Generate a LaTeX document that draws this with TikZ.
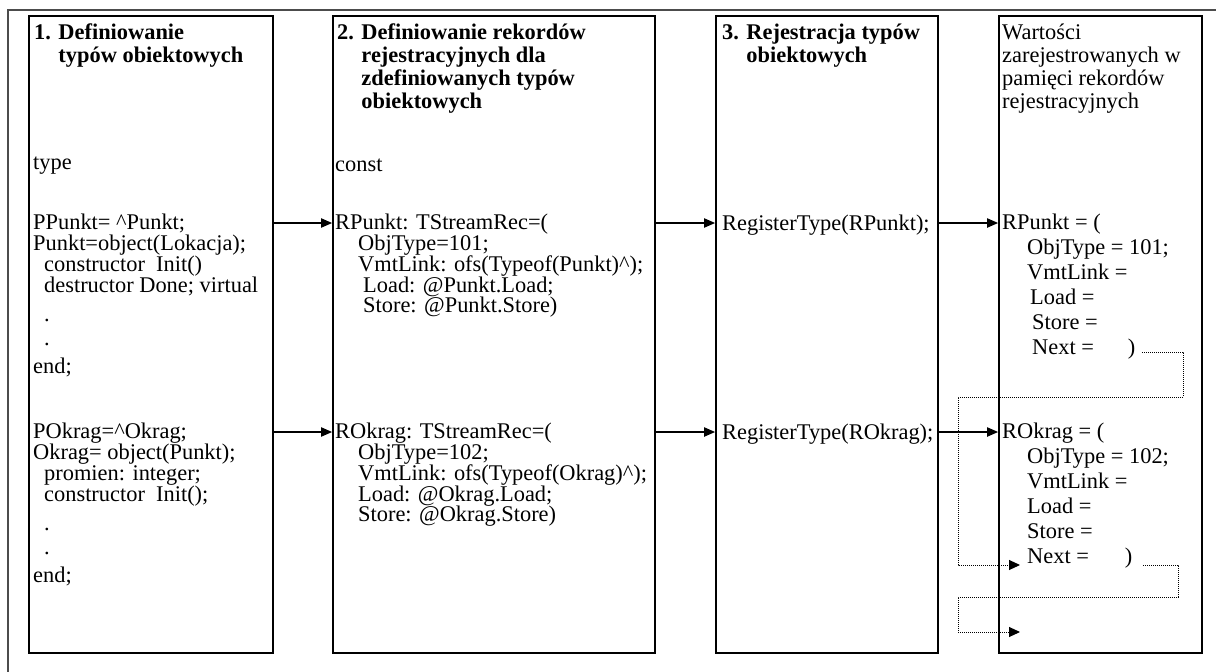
\documentclass[tikz,border=0pt]{standalone}
\usepackage{fontspec}
\setmainfont{Liberation Serif}
\usetikzlibrary{arrows.meta,positioning}

\begin{document}
\begin{tikzpicture}[x=1pt, y=-1pt,
    col/.style={draw, line width=1.6pt, fill=white, minimum height=637pt, inner sep=0pt},
    txt/.style={anchor=north west, inner sep=0pt, align=left, font=\fontsize{22.4}{20.8}\selectfont,
                execute at begin node={\rule{0pt}{16pt}}},
    hdr/.style={txt, font=\fontsize{22.4}{23}\selectfont\bfseries},
    arr/.style={-{Triangle[length=11pt, width=9pt]}, line width=1.8pt},
    link/.style={-{Triangle[length=11pt, width=10pt]}, densely dotted, line width=1pt}
]
\useasboundingbox (0,0) rectangle (1216,672);
\draw[line width=1.4pt, black!70] (8,672) -- (8,10) -- (1216,10);

% the four columns
\node[col, minimum width=244pt] (box1) at (151,334.5) {};
\node[col, minimum width=322pt] (box2) at (494,334.5) {};
\node[col, minimum width=222pt] (box3) at (827,334.5) {};
\node[col, minimum width=203pt] (box4) at (1100.5,334.5) {};

\coordinate (row1) at (0,223);
\coordinate (row2) at (0,432);

% 1. types
\node[hdr] (h1) at (34,24) {1. Definiowanie\\\hphantom{1. }typów obiektowych};
\node[txt] (type) at (33,153) {type};
\node[txt] (pp) at (33,214) {PPunkt= \textasciicircum Punkt;\\Punkt=object(Lokacja);\\\hspace*{11pt}constructor\ \ Init()\\\hspace*{11pt}destructor Done; virtual\\[9pt]\hspace*{11pt}.\\[3pt]\hspace*{11pt}.\\[7pt]end;};
\node[txt] (po) at (33,423) {POkrag=\textasciicircum Okrag;\\Okrag= object(Punkt);\\\hspace*{11pt}promien: integer;\\\hspace*{11pt}constructor\ \ Init();\\[9pt]\hspace*{11pt}.\\[3pt]\hspace*{11pt}.\\[7pt]end;};

% 2. records
\node[hdr] (h2) at (337,24) {2. Definiowanie rekordów\\\hphantom{2. }rejestracyjnych dla\\\hphantom{2. }zdefiniowanych typów\\\hphantom{2. }obiektowych};
\node[txt] (const) at (335,155) {const};
\node[txt] (rp) at (335,214) {RPunkt: TStreamRec=(\\\hspace*{23pt}ObjType=101;\\\hspace*{23pt}VmtLink: ofs(Typeof(Punkt)\textasciicircum);\\\hspace*{28pt}Load: @Punkt.Load;\\\hspace*{28pt}Store: @Punkt.Store)};
\node[txt] (ro) at (335,423) {ROkrag: TStreamRec=(\\\hspace*{23pt}ObjType=102;\\\hspace*{23pt}VmtLink: ofs(Typeof(Okrag)\textasciicircum);\\\hspace*{23pt}Load: @Okrag.Load;\\\hspace*{23pt}Store: @Okrag.Store)};

% 3. registration
\node[hdr] (h3) at (722,24) {3. Rejestracja typów\\\hphantom{3. }obiektowych};
\node[txt] (rt1) at (722,214) {RegisterType(RPunkt);};
\node[txt] (rt2) at (722,423) {RegisterType(ROkrag);};

% values in memory
\node[txt, font=\fontsize{22.4}{23}\selectfont] (h4) at (1002,24) {Wartości\\zarejestrowanych w\\pamięci rekordów\\rejestracyjnych};
\node[txt, font=\fontsize{22.4}{25}\selectfont] (v1) at (1002,214) {RPunkt = (\\\hspace*{25pt}ObjType = 101;\\\hspace*{25pt}VmtLink =\\\hspace*{28pt}Load =\\\hspace*{30pt}Store =\\\hspace*{30pt}Next =\hspace{34pt})};
\node[txt, font=\fontsize{22.4}{25}\selectfont] (v2) at (1002,423) {ROkrag = (\\\hspace*{25pt}ObjType = 102;\\\hspace*{25pt}VmtLink =\\\hspace*{25pt}Load =\\\hspace*{25pt}Store =\\\hspace*{25pt}Next =\hspace{36pt})};

\draw[arr] (box1.east |- row1) -- (box2.west |- row1);
\draw[arr] (box2.east |- row1) -- (box3.west |- row1);
\draw[arr] (box3.east |- row1) -- (box4.west |- row1);
\draw[arr] (box1.east |- row2) -- (box2.west |- row2);
\draw[arr] (box2.east |- row2) -- (box3.west |- row2);
\draw[arr] (box3.east |- row2) -- (box4.west |- row2);

% Next links
\coordinate (n1) at (1142,352);
\coordinate (n2) at (1020,565);
\coordinate (n3) at (1143,565);
\coordinate (n4) at (1020,632);
\draw[link] (n1) -| (1183,397) -- (958,397) |- (n2);
\draw[link] (n3) -| (1178,597) -- (958,597) |- (n4);
\end{tikzpicture}
\end{document}
